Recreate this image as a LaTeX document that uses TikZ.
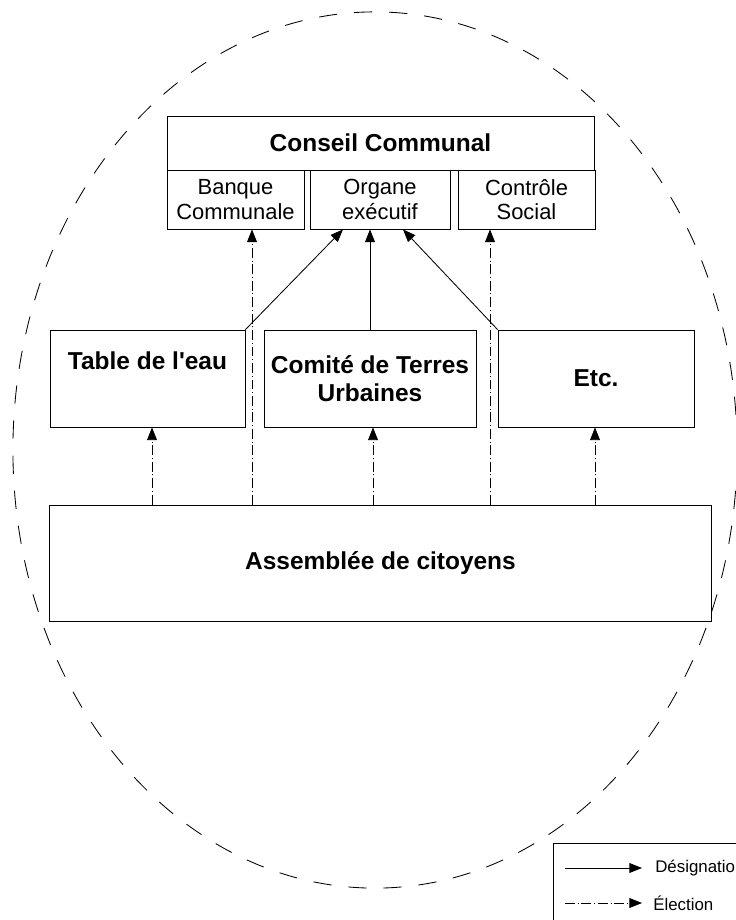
\documentclass[tikz,border=0pt]{standalone}
\usepackage{fontspec}
\setmainfont{Liberation Sans}
\usepackage{tikz}
\usetikzlibrary{positioning}
\usetikzlibrary{calc,arrows.meta}

\begin{document}
\begin{tikzpicture}[x=0.025cm, y=-0.025cm,
	box/.style={draw, line width=0.6pt, rectangle, inner sep=0pt, align=center},
	bigtext/.style={font=\fontsize{17.4}{19.5}\selectfont\bfseries},
	smalltext/.style={font=\fontsize{15.6}{17.5}\selectfont},
	legtext/.style={font=\fontsize{12}{14}\selectfont, inner sep=0pt, anchor=west},
	desig/.style={line width=0.6pt, -{Triangle[length=9pt,width=7pt]}},
	elect/.style={line width=0.6pt, dash pattern=on 7pt off 2pt on 0.7pt off 2pt,
		-{Triangle[length=9pt,width=7pt]}}]

	% page size of the reference, in pixels
	\useasboundingbox (0,0) rectangle (736,920);

	% the outer dashed ellipse
	\draw[line width=0.6pt, dash pattern=on 13pt off 12pt]
		(375,450) ellipse [x radius=9.05cm, y radius=10.95cm];

	% Conseil and its three organs
	\node[box, bigtext, minimum width=10.675cm, minimum height=1.35cm] (conseil) at (380.5,143) {Conseil Communal};
	\node[box, smalltext, minimum width=3.425cm, minimum height=1.475cm] (banque) at (235.5,199.5) {Banque\\Communale};
	\node[box, smalltext, minimum width=3.5cm, minimum height=1.475cm] (organe) at (380,199.5) {Organe\\exécutif};
	\node[box, smalltext, minimum width=3.425cm, minimum height=1.475cm] (controle) at (526.5,199.5) {Contrôle\\Social};

	% the committees
	\node[box, bigtext, minimum width=4.875cm, minimum height=2.425cm] (table) at (147.5,378.5) {Table de l\textquotesingle eau\\\strut};
	\node[box, bigtext, minimum width=5.3cm, minimum height=2.425cm] (comite) at (370,378.5) {Comité de Terres\\Urbaines};
	\node[box, bigtext, minimum width=4.9cm, minimum height=2.425cm] (etcbox) at (596,378.5) {Etc.};

	% the assembly
	\node[box, bigtext, minimum width=16.525cm, minimum height=2.9cm] (assemblee) at (380.5,563) {Assemblée de citoyens};

	%%%%%%%%%%%%%%%%%%%%%%%%%%%%%%%%%%%%%%%%%%%%%%%%%%%%%%%%%%%%%%
	% election: from the assembly up
	\coordinate (eT) at ($(table.south)+(4.5,0)$);
	\coordinate (eB) at ($(banque.south)+(16.5,0)$);
	\coordinate (eC) at ($(comite.south)+(3,0)$);
	\coordinate (eS) at ($(controle.south)+(-36.5,0)$);
	\coordinate (eE) at ($(etcbox.south)+(-1,0)$);

	\draw[elect] (eT |- assemblee.north) -- (eT);
	\draw[elect] (eB |- assemblee.north) -- (eB);
	\draw[elect] (eC |- assemblee.north) -- (eC);
	\draw[elect] (eS |- assemblee.north) -- (eS);
	\draw[elect] (eE |- assemblee.north) -- (eE);

	% designation: committees to the executive
	\coordinate (tipL) at ($(organe.south)+(-37,0)$);
	\coordinate (tipR) at ($(organe.south)+(23,0)$);

	\draw[desig] (table.north east) -- (tipL);
	\draw[desig] (comite.north) -- (comite.north |- organe.south);
	\draw[desig] (etcbox.north west) -- (tipR);

	%%%%%%%%%%%%%%%%%%%%%%%%%%%%%%%%%%%%%%%%%%%%%%%%%%%%%%%%%%%%%%
	% legend, cut by the page edge
	\node[draw, fill=white, line width=0.6pt, inner sep=0pt, anchor=north west,
		minimum width=6.25cm, minimum height=3cm] (legend) at (553,843) {};

	\node[legtext] (lgdesig) at (655,868) {Désignation};
	\node[legtext] (lgelect) at (653,903) {Élection};

	\coordinate (ld) at (565,868);
	\coordinate (le) at (565,903);

	\draw[desig] (ld) -- ([xshift=-0.325cm]lgdesig.west);
	\draw[elect] (le) -- ([xshift=-0.275cm]lgelect.west);

\end{tikzpicture}
\end{document}
